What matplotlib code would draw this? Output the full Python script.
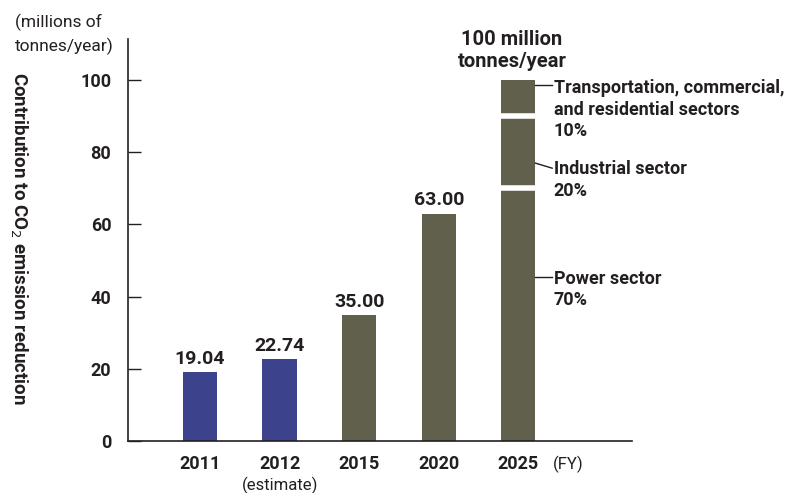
import matplotlib
matplotlib.use("Agg")
import matplotlib.pyplot as plt

plt.rcParams['font.family'] = ['Roboto', 'DejaVu Sans']

years = ["2011", "2012", "2015", "2020", "2025"]
sublabels = ["", "(estimate)", "", "", ""]
totals = [19.04, 22.74, 35.00, 63.00]
value_labels = ["19.04", "22.74", "35.00", "63.00"]
is_actual = [True, True, False, False]
sectors_2025 = ["Power sector", "Industrial sector", "Transportation, commercial,\nand residential sectors"]
shares_2025 = [70, 20, 10]
y_ticks = [0, 20, 40, 60, 80, 100]

blue = "#3d428c"
olive = "#60604c"
ink = "#231f20"

fig = plt.figure(figsize=(7.89, 4.93), dpi=100)
ax = fig.add_axes([0.1622, 0.1055, 0.639, 0.8154])

x = list(range(len(years)))
width = 0.43

for xi, v, actual in zip(x[:4], totals, is_actual):
    ax.bar(xi, v, width=width, color=blue if actual else olive, zorder=2)
for xi, v, lab in zip(x[:4], totals, value_labels):
    ax.annotate(lab, (xi, v), xytext=(0, 3), textcoords="offset points",
                ha="center", va="bottom", fontsize=14, fontweight="bold", color=ink)

# stacked 2025 bar, segments split by white gaps
bottom = 0
for s in shares_2025:
    ax.bar(x[4], s, width=width, bottom=bottom, color=olive, zorder=2)
    bottom += s
    if bottom < sum(shares_2025):
        ax.hlines(bottom, x[4] - width / 2 - 0.01, x[4] + width / 2 + 0.01,
                  color="white", lw=4, zorder=2.2)

step = 5.96  # one text line, in data units
for i, line in enumerate(["100 million", "tonnes/year"]):
    ax.text(x[4] - 0.08, 111.2 - i * 6.1, line, ha="center", va="center",
            fontsize=14.5, fontweight="bold", color=ink)

# leader lines and sector labels
right = x[4] + width / 2
lx = right + 0.21
leaders = [(45.4, 45.4), (77.0, 75.6), (98.6, 98.6)]
text_y = [44.9, 75.3, 97.8]
for (y0, y1), ty, name, share in zip(leaders, text_y, sectors_2025, shares_2025):
    ax.plot([right, lx], [y0, y1], color=ink, lw=1.0, clip_on=False, zorder=3)
    lines = name.split("\n") + [f"{share}%"]
    for i, line in enumerate(lines):
        ax.text(lx + 0.02, ty - i * step, line, ha="left", va="center",
                fontsize=13, fontweight="bold", color=ink)

ax.set_xlim(-0.905, 5.43)
ax.set_ylim(0, 111.4)
ax.set_yticks(y_ticks)
ax.set_yticklabels([str(t) for t in y_ticks], fontsize=13, fontweight="bold", color=ink)
ax.tick_params(axis="y", direction="in", length=9, width=1.0, color=ink, pad=12)
ax.set_xticks(x)
ax.set_xticklabels(years, fontsize=13, fontweight="bold", color=ink)
ax.tick_params(axis="x", length=0, pad=10)
for xi, sub in zip(x, sublabels):
    if sub:
        ax.text(xi, -12.2, sub, ha="center", va="center", fontsize=12, color=ink)
ax.text(4.63, -6.6, "(FY)", ha="center", va="center", fontsize=12, color=ink)

for side in ("top", "right"):
    ax.spines[side].set_visible(False)
for side in ("left", "bottom"):
    ax.spines[side].set_color(ink)
    ax.spines[side].set_linewidth(1.2)

for i, line in enumerate(["(millions of", "tonnes/year)"]):
    fig.text(15 / 789, 1 - (22 + 24 * i) / 493, line, ha="left", va="center",
             fontsize=12.5, color=ink)
fig.text(19 / 789, 1 - 238 / 493, "Contribution to CO$_2$ emission reduction",
         rotation=270, ha="center", va="center", fontsize=13.5, fontweight="bold", color=ink)

fig.savefig("out.png", dpi=100)
